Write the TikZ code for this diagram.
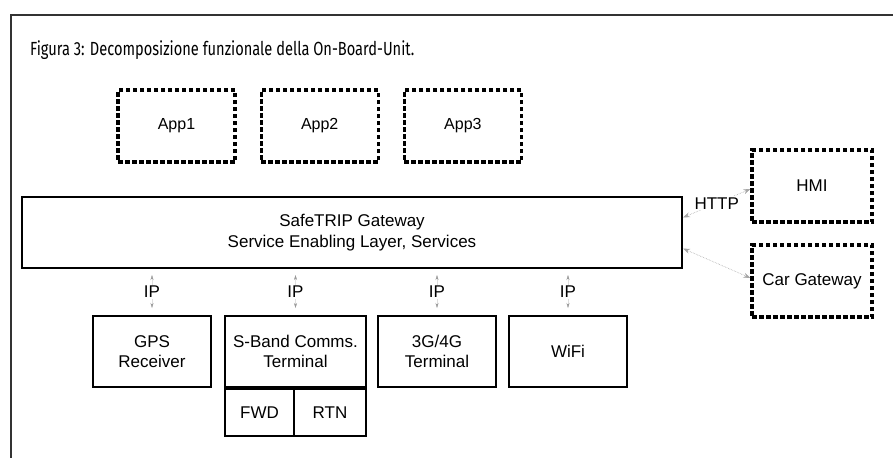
\documentclass[tikz,border=0pt]{standalone}
\usepackage{fontspec}
\setmainfont{Liberation Sans}
\newfontfamily\capfont[FakeStretch=0.77]{Fira Sans}
\usepackage{tikz}
\usetikzlibrary{arrows.meta, positioning}
\tikzstyle{appbox} = [rectangle, minimum width=117pt, minimum height=72pt, text centered, draw=black, line width=3.2pt, dash pattern=on 4.5pt off 2.5pt, font=\fontsize{16}{19}\selectfont]
\tikzstyle{extbox} = [appbox, minimum width=120pt, font=\fontsize{17}{20}\selectfont]
\tikzstyle{gwbox} = [rectangle, minimum width=660pt, minimum height=71pt, align=center, draw=black, line width=2pt, font=\fontsize{17}{21}\selectfont]
\tikzstyle{unit} = [rectangle, minimum width=118pt, minimum height=71pt, align=center, draw=black, line width=2pt, font=\fontsize{17}{20}\selectfont]
\tikzstyle{subunit} = [unit, minimum height=47pt]
\tikzstyle{link} = [gray!70, densely dotted, line width=0.6pt, {Stealth[length=7pt,width=5pt]}-{Stealth[length=7pt,width=5pt]}]
\tikzstyle{iplink} = [gray!25, line width=0.3pt, {Stealth[length=5pt,width=3pt,gray!80]}-{Stealth[length=5pt,width=3pt,gray!80]}, shorten <=6pt, shorten >=7pt]
\tikzstyle{lbl} = [fill=white, inner sep=1pt, text=black, font=\fontsize{17}{20}\selectfont]

\begin{document}
\begin{tikzpicture}[x=1pt, y=-1pt]
        \useasboundingbox (0,0) rectangle (893,458);
        % Frame and caption
        \coordinate (fr-r) at (893,15);
        \coordinate (fr-c) at (11,15);
        \coordinate (fr-b) at (11,458);
        \draw [line width=1.4pt, black!80] (fr-r) -- (fr-c) -- (fr-b);
        \node (title) [anchor=base west, inner sep=0pt, font=\capfont\fontsize{19}{22}\selectfont] at (30,55) {Figura 3: Decomposizione funzionale della On-Board-Unit.};
        
        % Applications
        \node (app1) [appbox] at (176.5,126) {App1};
        \node (app2) [appbox, right=23pt of app1] {App2};
        \node (app3) [appbox, right=23pt of app2] {App3};
        
        % Gateway
        \node (gw) [gwbox] at (352,232.5) {SafeTRIP Gateway\\Service Enabling Layer, Services};
        
        % External units
        \node (hmi) [extbox] at (812,186) {HMI};
        \node (car) [extbox] at (812,281) {Car Gateway};
        
        % Access units
        \node (gps) [unit] at (152,351.5) {GPS\\Receiver};
        \node (sband) [unit, minimum width=141pt, right=12pt of gps] {S-Band Comms.\\Terminal};
        \node (g34) [unit, right=10pt of sband] {3G/4G\\Terminal};
        \node (wifi) [unit, right=11pt of g34] {WiFi};
        \node (fwd) [subunit, minimum width=69pt, anchor=north west] at (sband.south west) {FWD};
        \node (rtn) [subunit, minimum width=72pt, anchor=north east] at (sband.south east) {RTN};
        
        % Connections
        \draw [link] ([yshift=15pt]gw.east) -- node [lbl] {HTTP} ([yshift=-3pt]hmi.west);
        \draw [link] ([yshift=-16pt]gw.east) -- ([yshift=3pt]car.west);
        
        \draw [iplink] (gw.south -| gps.north) -- node [lbl] {IP} (gps.north);
        \draw [iplink] (gw.south -| sband.north) -- node [lbl] {IP} (sband.north);
        \draw [iplink] (gw.south -| g34.north) -- node [lbl] {IP} (g34.north);
        \draw [iplink] (gw.south -| wifi.north) -- node [lbl] {IP} (wifi.north);
    \end{tikzpicture}
\end{document}
